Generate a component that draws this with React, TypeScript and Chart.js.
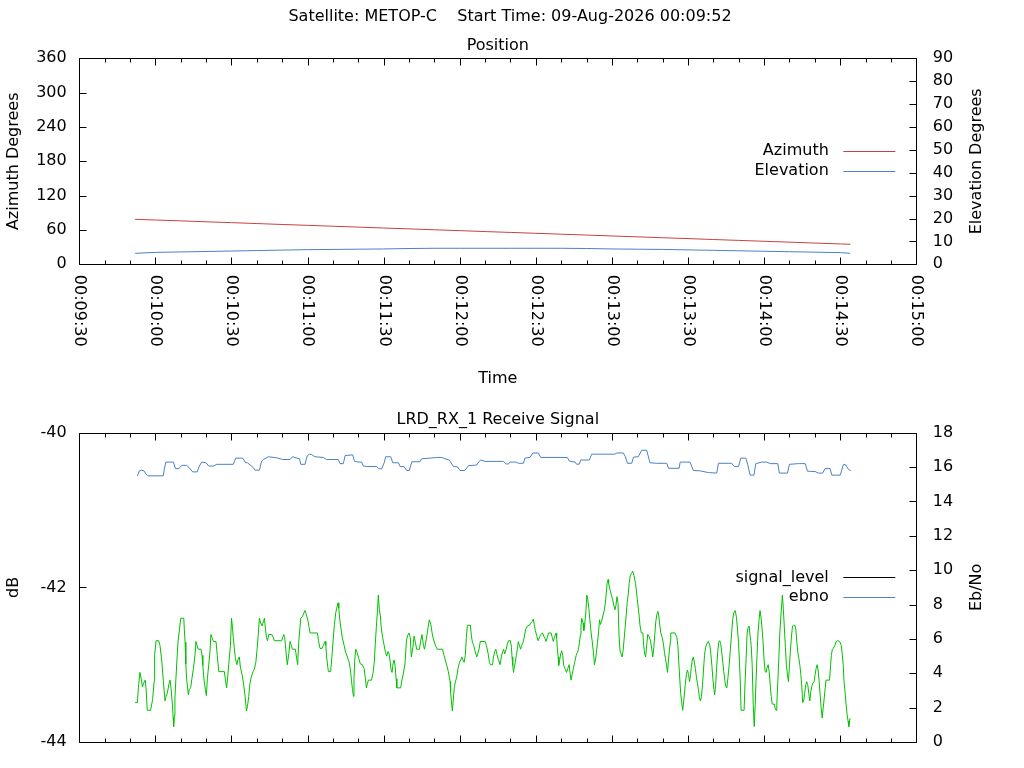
import React, { useEffect, useRef } from 'react';
import Chart from 'chart.js/auto';

// times are seconds after midnight
const timeLabels = ['00:09:30', '00:10:00', '00:10:30', '00:11:00', '00:11:30', '00:12:00',
  '00:12:30', '00:13:00', '00:13:30', '00:14:00', '00:14:30', '00:15:00'];
const azimuthTicks = [0, 60, 120, 180, 240, 300, 360];
const elevationTicks = [0, 10, 20, 30, 40, 50, 60, 70, 80, 90];
const dbTicks = [-44, -42, -40];
const ebnoTicks = [0, 2, 4, 6, 8, 10, 12, 14, 16, 18];

const positionTime = [592, 600, 610, 620, 630, 640, 650, 660, 670, 680, 690, 700, 710, 720, 730,
  740, 750, 760, 770, 780, 790, 800, 810, 820, 830, 840, 850, 860, 870, 874];
const azimuth = [78.6, 77.4, 75.9, 74.3, 72.8, 71.2, 69.6, 68.1, 66.5, 65.0, 63.4, 61.9, 60.3, 58.8, 57.2,
  55.7, 54.2, 52.6, 51.1, 49.5, 48.0, 46.4, 44.9, 43.3, 41.8, 40.2, 38.7, 37.1, 35.6, 35.0];
const elevation = [4.8, 5.2, 5.4, 5.6, 5.8, 6.0, 6.2, 6.4, 6.5, 6.6, 6.7, 6.9, 7.0, 7.0, 7.0,
  7.0, 7.0, 7.0, 6.9, 6.7, 6.6, 6.5, 6.3, 6.1, 5.9, 5.7, 5.5, 5.3, 5.1, 4.8];

// [time, Eb/No]
const ebno: [number, number][] = [
  [592.9, 15.49], [593.7, 15.78], [594.6, 15.82], [595.5, 15.78], [596.3, 15.59], [597.0, 15.49], [603.1, 15.49],
  [603.5, 15.87], [604.1, 16.29], [607.1, 16.29], [607.9, 15.91], [609.3, 15.91], [610.4, 16.10], [612.3, 16.10],
  [613.3, 15.97], [614.7, 15.72], [616.5, 15.72], [617.3, 16.06], [618.3, 16.29], [620.0, 16.25], [621.0, 16.06],
  [622.9, 16.06], [624.2, 16.16], [630.7, 16.16], [631.7, 16.52], [634.4, 16.52], [635.6, 16.25], [636.3, 16.25],
  [638.6, 15.97], [639.3, 15.82], [641.0, 15.82], [641.9, 16.35], [642.6, 16.44], [644.5, 16.60], [647.8, 16.54],
  [650.2, 16.44], [653.1, 16.44], [654.1, 16.60], [656.8, 16.48], [657.3, 16.16], [659.0, 16.16], [659.9, 16.67],
  [660.7, 16.75], [661.6, 16.73], [662.9, 16.60], [666.2, 16.56], [667.5, 16.44], [672.1, 16.44], [672.8, 16.20],
  [674.1, 16.20], [674.8, 16.67], [677.8, 16.71], [678.5, 16.33], [680.3, 16.29], [681.3, 16.29], [682.0, 16.06],
  [683.8, 16.03], [687.3, 16.03], [687.9, 15.91], [689.2, 15.89], [690.2, 16.25], [690.8, 16.60], [692.8, 16.60],
  [693.6, 16.25], [695.8, 16.25], [696.5, 16.03], [698.0, 16.03], [699.1, 15.80], [700.1, 15.80], [701.1, 16.31],
  [704.3, 16.31], [705.0, 16.48], [708.3, 16.52], [710.9, 16.56], [712.9, 16.56], [714.2, 16.48], [715.9, 16.41],
  [717.5, 16.03], [719.1, 16.01], [720.1, 15.80], [722.0, 15.80], [723.4, 16.08], [726.7, 16.12], [727.4, 16.29],
  [728.3, 16.41], [730.0, 16.33], [737.2, 16.33], [738.3, 16.18], [739.2, 16.18], [739.8, 16.29], [742.2, 16.29],
  [743.1, 16.22], [745.1, 16.22], [745.7, 16.52], [747.7, 16.56], [748.8, 16.82], [751.0, 16.82], [751.9, 16.56],
  [762.4, 16.56], [763.2, 16.35], [765.5, 16.29], [766.1, 16.16], [767.2, 16.18], [767.7, 16.41], [771.1, 16.41],
  [772.0, 16.75], [781.2, 16.75], [781.9, 16.82], [784.5, 16.82], [785.3, 16.60], [786.1, 16.22], [787.8, 16.22],
  [788.5, 16.58], [790.4, 16.60], [791.7, 16.98], [793.7, 16.98], [795.0, 16.25], [797.7, 16.22], [801.6, 16.22],
  [802.3, 15.93], [806.5, 15.93], [806.9, 16.29], [810.8, 16.29], [812.1, 15.80], [814.8, 15.78], [818.0, 15.68],
  [821.3, 15.65], [822.0, 16.22], [827.2, 16.22], [828.2, 16.03], [829.9, 16.03], [830.8, 16.52], [832.8, 16.52],
  [833.5, 16.16], [834.5, 15.53], [836.0, 15.53], [836.7, 16.20], [839.1, 16.29], [841.0, 16.29], [842.4, 16.20],
  [845.4, 16.20], [846.0, 15.65], [849.2, 15.65], [850.0, 16.16], [853.5, 16.20], [856.2, 16.20], [857.1, 15.76],
  [860.1, 15.74], [861.4, 15.65], [863.1, 15.65], [864.0, 15.91], [866.0, 15.91], [866.7, 15.53], [870.0, 15.53],
  [871.3, 16.16], [872.2, 16.12], [873.2, 15.87], [874.2, 15.78],
];

// [time, dB]
const signalLevel: [number, number][] = [
  [592.0, -43.49], [592.9, -43.49], [593.3, -43.30], [593.9, -43.10], [594.3, -43.16], [594.9, -43.29], [595.3, -43.24],
  [596.0, -43.20], [596.3, -43.30], [596.8, -43.59], [598.1, -43.59], [598.9, -43.45], [599.5, -43.22], [599.7, -42.87],
  [600.3, -42.69], [601.3, -42.69], [601.8, -42.75], [602.5, -42.94], [603.1, -43.20], [603.8, -43.47], [604.2, -43.41],
  [604.7, -43.37], [605.4, -43.24], [605.8, -43.20], [606.2, -43.32], [606.7, -43.51], [607.0, -43.69], [607.2, -43.80],
  [607.5, -43.66], [607.7, -43.43], [608.1, -43.18], [608.5, -42.94], [608.9, -42.71], [609.5, -42.54], [610.0, -42.40],
  [611.2, -42.40], [611.4, -42.54], [611.7, -42.71], [612.0, -42.99], [612.3, -43.18], [613.0, -43.39], [613.4, -43.32],
  [613.9, -43.30], [614.4, -43.18], [615.0, -43.05], [615.6, -42.88], [616.0, -42.70], [616.4, -42.75], [616.9, -42.80],
  [618.0, -42.80], [618.4, -42.88], [618.7, -43.01], [619.2, -43.20], [619.7, -43.32], [620.1, -43.40], [620.5, -43.18],
  [621.0, -43.01], [621.5, -42.84], [621.9, -42.61], [622.3, -42.65], [622.9, -42.70], [623.9, -42.70], [624.4, -42.88],
  [625.0, -43.09], [627.2, -43.09], [627.7, -43.22], [628.1, -43.30], [628.5, -43.16], [629.0, -42.97], [629.6, -42.75],
  [630.0, -42.40], [630.4, -42.52], [630.7, -42.65], [631.1, -42.78], [631.5, -42.91], [632.1, -43.00], [632.5, -42.94],
  [633.1, -42.90], [633.5, -43.03], [634.2, -43.13], [634.8, -43.26], [635.3, -43.39], [635.9, -43.60], [636.3, -43.54],
  [636.8, -43.41], [637.3, -43.24], [637.8, -43.16], [638.5, -43.09], [639.0, -43.06], [639.6, -42.97], [640.1, -42.80],
  [640.6, -42.59], [641.0, -42.40], [641.5, -42.46], [642.1, -42.50], [642.6, -42.44], [643.0, -42.40], [643.4, -42.54],
  [643.8, -42.65], [644.2, -42.69], [644.7, -42.61], [645.9, -42.61], [646.5, -42.65], [646.9, -42.69], [649.8, -42.69],
  [650.3, -42.64], [650.6, -42.61], [651.0, -42.65], [651.4, -42.80], [651.8, -42.94], [652.0, -43.00], [652.6, -42.86],
  [653.1, -42.70], [653.6, -42.75], [654.0, -42.80], [655.2, -42.80], [655.7, -42.92], [656.1, -43.00], [656.5, -42.71],
  [657.0, -42.52], [657.3, -42.40], [658.0, -42.38], [658.3, -42.35], [659.0, -42.30], [659.5, -42.35], [660.2, -42.44],
  [660.6, -42.52], [661.0, -42.59], [663.9, -42.59], [664.3, -42.69], [664.9, -42.79], [665.7, -42.79], [666.2, -42.75],
  [666.9, -42.70], [667.2, -42.75], [667.5, -42.90], [668.2, -43.09], [669.1, -43.09], [669.6, -42.90], [670.2, -42.63],
  [670.6, -42.48], [671.1, -42.33], [671.5, -42.27], [672.0, -42.20], [672.3, -42.27], [672.7, -42.42], [673.2, -42.54],
  [673.7, -42.65], [674.4, -42.75], [675.0, -42.84], [675.7, -42.90], [676.4, -42.97], [676.9, -43.07], [677.3, -43.20],
  [677.7, -43.32], [678.1, -43.41], [678.3, -43.18], [678.6, -42.94], [679.0, -42.80], [679.5, -42.84], [680.2, -42.92],
  [680.8, -42.99], [681.6, -43.00], [682.3, -43.05], [682.8, -43.18], [683.2, -43.30], [683.6, -43.24], [684.0, -43.20],
  [685.2, -43.20], [685.8, -43.11], [686.3, -42.97], [686.7, -42.73], [687.1, -42.52], [687.5, -42.33], [687.9, -42.10],
  [688.3, -42.29], [688.7, -42.37], [689.1, -42.54], [689.6, -42.65], [690.2, -42.75], [690.7, -42.84], [691.2, -42.89],
  [691.7, -42.83], [692.1, -42.86], [692.5, -42.94], [692.9, -43.06], [693.3, -43.10], [693.7, -42.99], [694.1, -42.94],
  [694.5, -43.01], [694.9, -43.18], [695.2, -43.30], [696.7, -43.30], [697.2, -43.20], [697.8, -43.11], [698.4, -42.99],
  [699.0, -42.68], [699.5, -42.62], [700.0, -42.59], [700.5, -42.65], [700.9, -42.90], [701.5, -42.78], [702.0, -42.63],
  [702.5, -42.71], [703.0, -42.80], [704.1, -42.80], [704.6, -42.69], [705.1, -42.61], [705.7, -42.75], [706.1, -42.80],
  [706.5, -42.73], [707.0, -42.63], [707.5, -42.52], [708.0, -42.42], [708.6, -42.48], [709.1, -42.59], [709.6, -42.67],
  [710.4, -42.75], [711.1, -42.80], [713.2, -42.80], [713.8, -42.88], [714.3, -42.94], [714.9, -43.01], [715.5, -43.09],
  [716.2, -43.22], [716.4, -43.35], [716.8, -43.51], [717.1, -43.60], [717.5, -43.43], [717.9, -43.28], [718.3, -43.22],
  [718.8, -43.16], [719.3, -43.05], [719.9, -42.97], [720.4, -42.94], [720.8, -42.90], [721.3, -42.94], [721.7, -42.97],
  [722.2, -42.88], [722.6, -42.65], [723.0, -42.49], [724.2, -42.49], [724.6, -42.63], [725.0, -42.71], [725.5, -42.75],
  [726.0, -42.82], [726.7, -42.90], [727.1, -42.86], [727.6, -42.80], [728.1, -42.70], [730.0, -42.70], [730.5, -42.75],
  [731.2, -42.86], [731.7, -42.97], [732.1, -43.00], [732.9, -43.00], [733.3, -42.90], [733.8, -42.83], [734.2, -42.80],
  [734.6, -42.86], [735.2, -42.93], [735.9, -43.00], [736.4, -42.90], [736.9, -42.83], [737.3, -42.80], [737.7, -42.86],
  [738.3, -42.80], [738.8, -42.73], [739.2, -42.69], [740.0, -42.69], [740.4, -42.78], [740.6, -42.90], [740.9, -43.01],
  [741.2, -43.10], [741.5, -43.03], [741.9, -42.97], [742.3, -42.88], [742.7, -42.80], [743.1, -42.70], [743.5, -42.75],
  [744.0, -42.80], [744.4, -42.75], [745.1, -42.70], [745.5, -42.63], [746.0, -42.54], [746.7, -42.50], [747.5, -42.49],
  [748.1, -42.46], [748.6, -42.44], [749.0, -42.41], [749.4, -42.48], [749.8, -42.56], [750.4, -42.63], [750.9, -42.69],
  [751.4, -42.65], [751.9, -42.61], [752.6, -42.59], [753.1, -42.63], [753.6, -42.66], [754.0, -42.70], [754.6, -42.64],
  [755.0, -42.59], [756.0, -42.59], [756.5, -42.65], [756.9, -42.70], [757.3, -42.65], [758.0, -42.59], [758.2, -42.65],
  [758.5, -42.80], [758.8, -42.90], [759.0, -43.01], [759.4, -42.94], [759.8, -42.86], [760.2, -42.82], [760.6, -42.88],
  [761.0, -43.01], [761.5, -43.05], [762.1, -43.10], [762.6, -43.05], [763.1, -43.00], [763.5, -43.11], [763.9, -43.20],
  [764.3, -43.13], [764.8, -43.05], [765.3, -42.97], [765.9, -42.88], [766.4, -42.84], [766.8, -42.80], [767.2, -42.71],
  [767.6, -42.61], [767.8, -42.50], [768.1, -42.40], [768.6, -42.46], [768.9, -42.56], [769.2, -42.50], [769.7, -42.33],
  [770.1, -42.10], [770.5, -42.16], [770.9, -42.27], [771.3, -42.42], [771.8, -42.59], [772.2, -42.69], [772.7, -42.84],
  [773.1, -43.00], [773.5, -42.94], [773.9, -42.84], [774.3, -42.71], [774.7, -42.59], [775.1, -42.42], [775.5, -42.48],
  [775.9, -42.44], [776.4, -42.37], [776.9, -42.31], [777.3, -42.23], [777.7, -42.10], [778.1, -41.95], [778.5, -41.90],
  [778.7, -41.95], [779.3, -42.04], [779.8, -42.10], [780.3, -42.16], [780.7, -42.23], [781.2, -42.29], [781.6, -42.23],
  [782.0, -42.12], [782.4, -42.20], [782.8, -42.63], [783.2, -42.82], [783.6, -42.86], [784.0, -42.90], [784.4, -42.82],
  [784.8, -42.67], [785.2, -42.52], [785.6, -42.37], [786.0, -42.20], [786.4, -42.10], [786.8, -41.95], [787.2, -41.85],
  [787.7, -41.82], [788.2, -41.79], [788.7, -41.85], [789.3, -41.95], [789.7, -42.06], [790.0, -42.16], [790.6, -42.33],
  [791.1, -42.50], [791.6, -42.59], [792.2, -42.59], [792.5, -42.75], [792.9, -42.86], [793.3, -42.90], [793.7, -42.75],
  [794.1, -42.61], [794.6, -42.63], [795.2, -42.69], [795.7, -42.80], [796.1, -42.90], [796.5, -42.78], [796.9, -42.61],
  [797.3, -42.44], [797.7, -42.35], [798.1, -42.31], [798.5, -42.37], [798.9, -42.50], [799.3, -42.59], [799.8, -42.65],
  [800.3, -42.73], [800.7, -42.84], [801.1, -42.92], [801.5, -43.00], [801.9, -43.10], [802.3, -42.94], [802.7, -42.80],
  [803.1, -42.69], [803.2, -42.59], [804.9, -42.59], [805.6, -42.65], [806.0, -42.75], [806.3, -42.94], [806.7, -43.16],
  [807.1, -43.37], [807.5, -43.49], [807.9, -43.59], [808.3, -43.47], [808.9, -43.26], [809.4, -43.11], [809.8, -43.07],
  [810.2, -43.13], [810.6, -43.22], [811.0, -43.13], [811.3, -43.03], [811.7, -42.94], [812.1, -42.90], [812.5, -42.97],
  [812.9, -43.05], [813.3, -43.16], [813.7, -43.24], [814.1, -43.32], [814.5, -43.43], [814.9, -43.47], [815.3, -43.41],
  [815.7, -43.26], [816.1, -43.07], [816.5, -42.88], [816.9, -42.78], [817.4, -42.73], [818.0, -42.70], [818.6, -42.75],
  [819.0, -42.86], [819.4, -43.01], [819.8, -43.18], [820.2, -43.32], [820.5, -43.39], [820.9, -43.26], [821.3, -43.03],
  [821.7, -42.84], [822.1, -42.71], [822.5, -42.69], [822.9, -42.73], [823.3, -42.84], [823.7, -42.97], [824.1, -43.09],
  [824.5, -43.20], [824.9, -43.28], [825.3, -43.30], [825.7, -43.18], [826.2, -43.01], [826.7, -42.80], [827.2, -42.59],
  [827.6, -42.42], [828.0, -42.33], [828.6, -42.30], [829.1, -42.39], [829.5, -42.54], [829.9, -42.71], [830.3, -42.97],
  [830.7, -43.30], [830.9, -43.59], [832.1, -43.59], [832.5, -43.22], [832.9, -42.92], [833.3, -42.59], [833.7, -42.52],
  [834.1, -42.50], [834.5, -42.63], [834.9, -42.75], [835.3, -43.01], [835.7, -43.51], [836.1, -43.80], [836.5, -43.51],
  [836.8, -43.22], [837.2, -42.88], [837.6, -42.59], [838.0, -42.42], [838.4, -42.30], [838.8, -42.39], [839.2, -42.54],
  [839.6, -42.71], [840.0, -42.94], [840.4, -43.09], [840.8, -43.10], [841.2, -43.03], [841.6, -43.00], [842.0, -43.09],
  [842.4, -43.26], [842.8, -43.41], [843.2, -43.51], [844.0, -43.51], [844.3, -43.56], [844.7, -43.59], [845.0, -43.51],
  [845.4, -43.22], [845.8, -42.92], [846.2, -42.59], [846.6, -42.37], [847.0, -42.20], [847.2, -42.10], [847.6, -42.29],
  [848.0, -42.54], [848.4, -42.78], [848.8, -43.01], [849.2, -43.13], [849.6, -43.22], [850.0, -43.01], [850.4, -42.80],
  [850.8, -42.63], [851.2, -42.50], [851.6, -42.49], [852.1, -42.49], [852.5, -42.54], [852.9, -42.71], [853.3, -42.84],
  [853.7, -42.92], [854.1, -43.01], [854.5, -43.13], [854.9, -43.30], [855.2, -43.49], [855.6, -43.47], [856.0, -43.37],
  [856.4, -43.26], [856.8, -43.22], [857.2, -43.26], [857.6, -43.37], [858.0, -43.47], [858.4, -43.35], [858.8, -43.28],
  [859.2, -43.24], [859.7, -43.22], [860.1, -43.13], [860.5, -43.05], [860.9, -43.00], [861.3, -43.07], [861.7, -43.22],
  [862.1, -43.39], [862.5, -43.56], [862.9, -43.69], [863.3, -43.56], [863.7, -43.43], [864.1, -43.30], [864.4, -43.20],
  [865.8, -43.20], [866.2, -43.01], [866.5, -42.88], [866.9, -42.80], [867.3, -42.79], [867.9, -42.75], [868.4, -42.70],
  [869.0, -42.69], [869.8, -42.70], [870.4, -42.75], [870.8, -42.86], [871.2, -43.01], [871.5, -43.22], [871.9, -43.35],
  [872.3, -43.51], [872.7, -43.64], [873.1, -43.73], [873.4, -43.80], [873.8, -43.70], [874.0, -43.69],
];

const RED = '#c94040';
const BLUE = '#4a80c8';
const GREEN = '#00c000';
const FONT = { family: "'DejaVu Sans', sans-serif", size: 16 };
const FONT_CSS = "16px 'DejaVu Sans', sans-serif";

const toSeconds = (s: string) => {
  const [h, m, sec] = s.split(':').map(Number);
  return h * 3600 + m * 60 + sec;
};
const majorTimes = timeLabels.map(toSeconds);
const allTimes = majorTimes.flatMap((t, i) => (i < majorTimes.length - 1 ? [t, t + 10, t + 20] : [t]));

type FrameOpts = {
  title?: string;
  subtitle: string;
  leftTitle: string;
  rightTitle: string;
  timeLabels: boolean;
  legend: { label: string; color: string }[];
};

const text = (ctx: CanvasRenderingContext2D, s: string, x: number, y: number, align: CanvasTextAlign, rot = 0) => {
  ctx.save();
  ctx.translate(x, y);
  ctx.rotate(rot);
  ctx.textAlign = align;
  ctx.textBaseline = 'middle';
  ctx.fillText(s, 0, 0);
  ctx.restore();
};

// gnuplot-like frame: border, inward ticks, titles and key
const makeFrame = (o: FrameOpts) => ({
  id: 'frame',
  afterDatasetsDraw(chart: any) {
    const { ctx, chartArea: a, scales } = chart;
    const px = (v: number) => Math.round(v) + 0.5;
    ctx.save();
    ctx.strokeStyle = '#000';
    ctx.lineWidth = 1;
    ctx.beginPath();
    const L = px(a.left), R = px(a.right), T = px(a.top), B = px(a.bottom);
    ctx.rect(L, T, R - L, B - T);
    allTimes.forEach((t) => {
      const x = px(scales.x.getPixelForValue(t));
      const len = majorTimes.includes(t) ? 7 : 4;
      ctx.moveTo(x, B); ctx.lineTo(x, B - len);
      ctx.moveTo(x, T); ctx.lineTo(x, T + len);
    });
    scales.y.ticks.forEach((tk: any) => {
      const y = px(scales.y.getPixelForValue(tk.value));
      ctx.moveTo(L, y); ctx.lineTo(L + 7, y);
    });
    scales.y2.ticks.forEach((tk: any) => {
      const y = px(scales.y2.getPixelForValue(tk.value));
      ctx.moveTo(R, y); ctx.lineTo(R - 7, y);
    });
    ctx.stroke();

    ctx.fillStyle = '#000';
    ctx.font = FONT_CSS;
    const cx = (a.left + a.right) / 2;
    const cy = (a.top + a.bottom) / 2;
    if (o.title) text(ctx, o.title, 510, 17, 'center');
    text(ctx, o.subtitle, cx, a.top - 12.5, 'center');
    text(ctx, o.leftTitle, 14, cy, 'center', -Math.PI / 2);
    text(ctx, o.rightTitle, 977, cy, 'center', -Math.PI / 2);
    if (o.timeLabels) {
      timeLabels.forEach((lbl, i) => {
        text(ctx, lbl, scales.x.getPixelForValue(majorTimes[i]), a.bottom + 10.5, 'left', Math.PI / 2);
      });
      text(ctx, 'Time', cx, a.bottom + 115, 'center');
    }
    o.legend.forEach((e, i) => {
      const y = cy - 10 + i * 19.5;
      ctx.fillStyle = '#000';
      text(ctx, e.label, a.right - 87.5, y, 'right');
      ctx.strokeStyle = e.color;
      ctx.beginPath();
      ctx.moveTo(a.right - 73, px(y));
      ctx.lineTo(a.right - 21, px(y));
      ctx.stroke();
    });
    ctx.restore();
  },
});

const xScale = (height: number) => ({
  type: 'linear' as const,
  min: majorTimes[0],
  max: majorTimes[majorTimes.length - 1],
  afterBuildTicks: (s: any) => { s.ticks = allTimes.map((v) => ({ value: v })); },
  afterFit: (s: any) => { s.height = height; },
  ticks: { display: false },
  grid: { display: false, drawTicks: false },
  border: { display: false },
});

const yScale = (position: 'left' | 'right', ticks: number[], padding: number, width: number) => ({
  type: 'linear' as const,
  position,
  min: ticks[0],
  max: ticks[ticks.length - 1],
  afterBuildTicks: (s: any) => { s.ticks = ticks.map((v) => ({ value: v })); },
  afterFit: (s: any) => { s.width = width; },
  ticks: { font: FONT, color: '#000', padding },
  grid: { display: false, drawTicks: false },
  border: { display: false },
});

const line = (label: string, data: { x: number; y: number }[], color: string, axis: string) => ({
  label,
  data,
  yAxisID: axis,
  borderColor: color,
  borderWidth: 1,
  pointRadius: 0,
  fill: false,
  tension: 0,
});

const baseOptions = (padTop: number, xHeight: number, left: number[], right: number[]) => ({
  responsive: false,
  animation: false as const,
  layout: { padding: { top: padTop, left: 0, right: 0, bottom: 0 } },
  plugins: { legend: { display: false }, tooltip: { enabled: false }, title: { display: false } },
  scales: {
    x: xScale(xHeight),
    y: yScale('left', left, 12.6, 79.3),
    y2: yScale('right', right, 16.4, 107.7),
  },
});

const App: React.FC = () => {
  const topRef = useRef<HTMLCanvasElement>(null);
  const bottomRef = useRef<HTMLCanvasElement>(null);

  useEffect(() => {
    if (!topRef.current || !bottomRef.current) return;

    const position = new Chart(topRef.current, {
      type: 'line',
      data: {
        datasets: [
          line('Azimuth', positionTime.map((t, i) => ({ x: t, y: azimuth[i] })), RED, 'y'),
          line('Elevation', positionTime.map((t, i) => ({ x: t, y: elevation[i] })), BLUE, 'y2'),
        ],
      },
      options: baseOptions(58.3, 127.7, azimuthTicks, elevationTicks) as any,
      plugins: [makeFrame({
        title: 'Satellite: METOP-C    Start Time: 09-Aug-2026 00:09:52',
        subtitle: 'Position',
        leftTitle: 'Azimuth Degrees',
        rightTitle: 'Elevation Degrees',
        timeLabels: true,
        legend: [{ label: 'Azimuth', color: RED }, { label: 'Elevation', color: BLUE }],
      })],
    });

    const signal = new Chart(bottomRef.current, {
      type: 'line',
      data: {
        datasets: [
          line('ebno', ebno.map(([x, y]) => ({ x, y })), BLUE, 'y2'),
          line('signal_level', signalLevel.map(([x, y]) => ({ x, y })), GREEN, 'y'),
        ],
      },
      options: baseOptions(40.7, 19.7, dbTicks, ebnoTicks) as any,
      plugins: [makeFrame({
        subtitle: 'LRD_RX_1 Receive Signal',
        leftTitle: 'dB',
        rightTitle: 'Eb/No',
        timeLabels: false,
        legend: [{ label: 'signal_level', color: '#000' }, { label: 'ebno', color: BLUE }],
      })],
    });

    return () => {
      position.destroy();
      signal.destroy();
    };
  }, []);

  return (
    <div style={{ position: 'absolute', left: 0, top: 0, width: 1024, height: 768, background: '#fff' }}>
      <canvas ref={topRef} width={1024} height={392} style={{ display: 'block' }}></canvas>
      <canvas ref={bottomRef} width={1024} height={376} style={{ display: 'block' }}></canvas>
    </div>
  );
};

export default App;
